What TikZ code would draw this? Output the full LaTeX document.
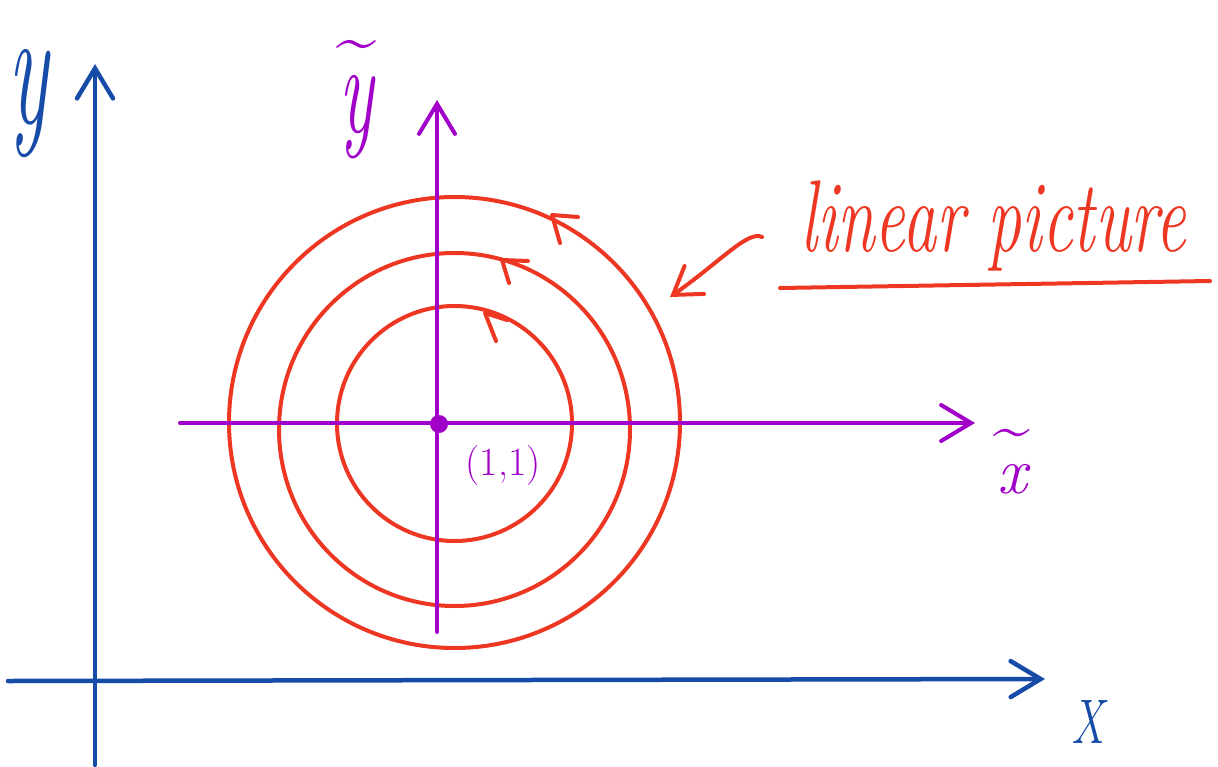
\documentclass[tikz,border=0pt]{standalone}
\usetikzlibrary{arrows.meta}
\definecolor{axblue}{RGB}{22,76,168}
\definecolor{axpurple}{RGB}{160,0,200}
\definecolor{cred}{RGB}{238,55,35}
\begin{document}
\begin{tikzpicture}[x=1pt,y=-1pt,
  blueax/.style={draw=axblue, line width=4.5pt, line cap=round},
  purpax/.style={draw=axpurple, line width=4pt, line cap=round},
  ring/.style={draw=cred, line width=4pt},
  barb/.style={draw=cred, line width=4pt, line cap=round, line join=round},
  bigtip/.style={-{Straight Barb[length=30pt,width=36pt,line cap=round]}},
  redtip/.style={-{Straight Barb[length=26pt,width=34pt,line cap=round]}},
  bluelab/.style={text=axblue, inner sep=0pt},
  purplab/.style={text=axpurple, inner sep=0pt, align=center},
  redlab/.style={text=cred, inner sep=0pt}]
\useasboundingbox (0,0) rectangle (1218,766);

% blue axes
\coordinate (Ybot) at (95,765);
\coordinate (Ytop) at (95,64);
\coordinate (Xl) at (8,681);
\coordinate (Xr) at (1045,679);
\draw[blueax, bigtip] (Ybot) -- (Ytop);
\draw[blueax, bigtip] (Xl) -- (Xr);
\node[bluelab, font=\fontsize{84}{84}\selectfont] (ylab) at (28,104) {\scalebox{1}[2.0]{\itshape y}};
\node[bluelab, font=\fontsize{60}{60}\selectfont] (xlab) at (1088,722) {\scalebox{0.75}[1.05]{\itshape X}};

% red circles
\draw[ring] (454.5,422.5) circle [radius=225.5];
\draw[ring] (454.5,429.5) circle [x radius=175.5, y radius=176.5];
\draw[ring] (454.5,423.5) circle [radius=117.5];

% small direction arrowheads on circles
\draw[barb] (578,217) -- (552,215) -- (560,243);
\draw[barb] (528,261) -- (502,260) -- (509,283);
\draw[barb] (507,320) -- (485,313) -- (496,341);

% purple axes
\coordinate (ytb) at (437,632);
\coordinate (ytt) at (437,100);
\coordinate (xtl) at (180,423);
\coordinate (xtr) at (975,423);
\draw[purpax, bigtip] (ytb) -- (ytt);
\draw[purpax, bigtip] (xtl) -- (xtr);
\node[circle, fill=axpurple, inner sep=0pt, minimum size=18pt] (orig) at (439,424) {};
\node[purplab, font=\fontsize{72}{70}\selectfont] (ytlab) at (357,100) {\~{}\\ \scalebox{1}[1.8]{\itshape y}};
\node[purplab, font=\fontsize{66}{44}\selectfont] (xtlab) at (1012,462) {\~{}\\ \itshape x};
\node[purplab, font=\fontsize{40}{40}\selectfont] (pt) at (503,466) {(1,1)};

% annotation
\node[redlab, font=\fontsize{68}{68}\selectfont] (lp) at (993,226) {\scalebox{1}[1.5]{\itshape linear picture}};
\coordinate (ul1) at (780,288);
\coordinate (ul2) at (1210,281);
\draw[barb] (ul1) -- (ul2);
\coordinate (ptr) at (762,237);
\coordinate (ptrtip) at (670,297);
\draw[barb, redtip] (ptr) .. controls (748,230) and (720,262) .. (ptrtip);
\end{tikzpicture}
\end{document}
